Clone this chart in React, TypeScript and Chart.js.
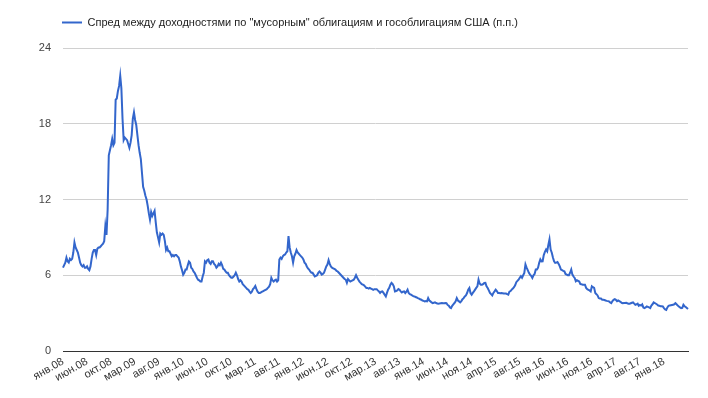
import { useEffect, useRef } from 'react';
import { Chart, registerables } from 'chart.js';

Chart.register(...registerables);

const seriesName = 'Спред между доходностями по "мусорным" облигациям и гособлигациям США (п.п.)';

const tickLabels = [
  'янв.08', 'июн.08', 'окт.08', 'мар.09', 'авг.09', 'янв.10', 'июн.10', 'окт.10', 'мар.11',
  'авг.11', 'янв.12', 'июн.12', 'окт.12', 'мар.13', 'авг.13', 'янв.14', 'июн.14', 'ноя.14',
  'апр.15', 'авг.15', 'янв.16', 'июн.16', 'ноя.16', 'апр.17', 'авг.17', 'янв.18',
];

const weeksPerTick = 21;

const yTicks = { min: 0, max: 24, step: 6 };

// weekly spread values, p.p.
const spread = [
  6.6, 6.8, 7.0, 7.4, 7.1, 7.0, 7.3, 7.2, 7.3, 7.8,
  8.6, 8.2, 8.0, 7.8, 7.4, 7.0, 6.8, 6.7, 6.8, 6.6,
  6.6, 6.7, 6.5, 6.4, 6.7, 7.3, 7.8, 8.0, 8.0, 7.6,
  8.1, 8.2, 8.2, 8.3, 8.4, 8.5, 8.7, 9.9, 9.2, 11.2,
  15.5, 15.9, 16.3, 16.8, 16.3, 16.5, 19.9, 20.0, 20.6, 21.0,
  21.8, 20.8, 18.4, 16.7, 16.9, 16.8, 16.7, 16.4, 16.1, 16.5,
  17.1, 18.4, 18.9, 18.3, 17.9, 17.1, 16.3, 15.7, 15.2, 14.1,
  13.0, 12.7, 12.3, 12.0, 11.5, 10.9, 10.4, 11.0, 10.7, 10.9,
  11.1, 10.2, 9.4, 9.0, 8.6, 9.3, 9.2, 9.3, 9.2, 8.7,
  8.0, 8.2, 7.9, 7.9, 7.7, 7.5, 7.6, 7.5, 7.6, 7.6,
  7.5, 7.4, 7.1, 6.7, 6.4, 6.05, 6.2, 6.45, 6.45, 6.8,
  7.1, 7.0, 6.6, 6.5, 6.3, 6.2, 6.0, 5.8, 5.65, 5.6,
  5.5, 5.5, 5.9, 6.2, 7.1, 7.0, 7.2, 7.25, 7.0, 6.9,
  7.1, 7.1, 6.9, 6.8, 6.6, 6.7, 6.9, 6.8, 7.0, 6.8,
  6.5, 6.45, 6.3, 6.2, 6.2, 6.0, 5.9, 5.8, 5.8, 5.9,
  6.0, 6.2, 6.0, 5.7, 5.5, 5.6, 5.5, 5.3, 5.2, 5.1,
  5.0, 4.9, 4.85, 4.7, 4.6, 4.7, 4.9, 5.0, 5.15, 4.9,
  4.7, 4.6, 4.6, 4.65, 4.7, 4.75, 4.8, 4.85, 4.9, 5.0,
  5.1, 5.3, 5.8, 5.6, 5.5, 5.6, 5.65, 5.5, 5.6, 7.25,
  7.4, 7.3, 7.5, 7.6, 7.65, 7.8, 7.9, 9.1, 8.2, 7.8,
  7.5, 7.0, 7.5, 7.7, 8.0, 7.8, 7.7, 7.6, 7.5, 7.4,
  7.25, 7.0, 6.9, 6.7, 6.55, 6.45, 6.3, 6.2, 6.2, 6.05,
  5.9, 5.95, 6.0, 6.2, 6.3, 6.2, 6.05, 6.1, 6.2, 6.45,
  6.7, 6.85, 7.2, 6.9, 6.7, 6.6, 6.55, 6.5, 6.45, 6.35,
  6.3, 6.2, 6.1, 6.0, 5.9, 5.8, 5.7, 5.65, 5.4, 5.7,
  5.6, 5.5, 5.55, 5.6, 5.65, 5.8, 6.0, 5.8, 5.65, 5.5,
  5.4, 5.3, 5.25, 5.2, 5.1, 5.0, 5.0, 4.95, 5.0, 4.95,
  4.9, 4.85, 4.9, 4.9, 4.9, 4.8, 4.72, 4.6, 4.7, 4.72,
  4.6, 4.45, 4.32, 4.6, 4.86, 5.0, 5.25, 5.39, 5.3, 5.12,
  4.72, 4.75, 4.8, 4.91, 4.85, 4.72, 4.64, 4.7, 4.72, 4.59,
  4.7, 4.86, 4.59, 4.5, 4.46, 4.4, 4.35, 4.32, 4.28, 4.24,
  4.19, 4.15, 4.1, 4.06, 4.0, 3.97, 3.93, 3.95, 3.93, 4.19,
  4.0, 3.93, 3.85, 3.79, 3.82, 3.85, 3.8, 3.76, 3.74, 3.77,
  3.79, 3.8, 3.78, 3.79, 3.8, 3.79, 3.65, 3.58, 3.45, 3.4,
  3.58, 3.7, 3.8, 3.93, 4.19, 4.0, 3.93, 3.85, 3.95, 4.1,
  4.19, 4.32, 4.4, 4.59, 4.85, 4.99, 4.59, 4.46, 4.6, 4.72,
  4.86, 5.0, 5.12, 5.65, 5.35, 5.25, 5.25, 5.3, 5.39, 5.4,
  5.12, 4.99, 4.8, 4.6, 4.5, 4.4, 4.6, 4.72, 4.86, 4.75,
  4.6, 4.6, 4.58, 4.6, 4.58, 4.55, 4.55, 4.55, 4.5, 4.46,
  4.7, 4.75, 4.86, 4.95, 5.05, 5.2, 5.45, 5.55, 5.65, 5.8,
  5.92, 5.8, 6.0, 6.19, 6.85, 6.6, 6.4, 6.19, 6.05, 5.95,
  5.79, 6.0, 6.1, 6.45, 6.45, 6.6, 6.98, 7.25, 7.1, 7.11,
  7.6, 7.85, 8.04, 7.9, 8.4, 8.84, 8.04, 7.78, 7.4, 7.11,
  6.98, 7.0, 7.05, 6.9, 6.7, 6.45, 6.4, 6.35, 6.31, 6.1,
  6.05, 6.0, 6.0, 6.2, 6.45, 6.05, 5.9, 5.79, 5.52, 5.6,
  5.55, 5.5, 5.3, 5.28, 5.25, 5.25, 5.25, 5.0, 4.9, 4.85,
  4.8, 4.72, 5.12, 5.05, 5.0, 4.59, 4.5, 4.4, 4.19, 4.15,
  4.15, 4.06, 4.06, 4.04, 4.0, 3.97, 3.95, 3.93, 3.85, 3.79,
  3.95, 4.06, 4.11, 4.05, 3.95, 4.0, 3.95, 3.9, 3.82, 3.79,
  3.8, 3.8, 3.82, 3.78, 3.75, 3.74, 3.78, 3.82, 3.85, 3.75,
  3.66, 3.7, 3.75, 3.58, 3.65, 3.6, 3.7, 3.45, 3.4, 3.45,
  3.53, 3.5, 3.45, 3.4, 3.6, 3.7, 3.85, 3.8, 3.74, 3.68,
  3.6, 3.58, 3.55, 3.55, 3.53, 3.4, 3.3, 3.26, 3.45, 3.58,
  3.6, 3.62, 3.64, 3.66, 3.7, 3.79, 3.7, 3.6, 3.53, 3.45,
  3.4, 3.42, 3.66, 3.55, 3.48, 3.4, 3.32,
];

const categories = spread.map((_, i) =>
  i % weeksPerTick === 0 ? tickLabels[i / weeksPerTick] ?? '' : ''
);

const FONT = '"Liberation Sans", Arial, sans-serif';

export default function App() {
  const canvasRef = useRef<HTMLCanvasElement | null>(null);

  useEffect(() => {
    const canvas = canvasRef.current;
    if (!canvas) return;
    const chart = new Chart(canvas, {
      type: 'line',
      data: {
        labels: categories,
        datasets: [
          {
            label: seriesName,
            data: spread,
            borderColor: '#3366cc',
            backgroundColor: '#3366cc',
            borderWidth: 2,
            pointRadius: 0,
            pointHoverRadius: 0,
            tension: 0,
            fill: false,
          },
        ],
      },
      options: {
        responsive: true,
        maintainAspectRatio: false,
        animation: false,
        events: [],
        layout: { padding: { top: -45, left: 0, right: 20, bottom: 0 } },
        plugins: {
          tooltip: { enabled: false },
          legend: {
            display: true,
            position: 'top',
            align: 'start',
            labels: {
              usePointStyle: true,
              pointStyle: 'line',
              pointStyleWidth: 20,
              padding: 62,
              color: '#222',
              font: { family: FONT, size: 11 },
            },
          },
          subtitle: {
            display: true,
            text: '',
            position: 'top',
            weight: 100,
            padding: 0,
            font: { size: 10, lineHeight: 1 },
          },
        },
        scales: {
          x: {
            type: 'category',
            grid: { display: false, drawTicks: false },
            border: { display: true, color: '#333', width: 1 },
            ticks: {
              autoSkip: false,
              maxRotation: 30,
              minRotation: 30,
              padding: 4,
              color: '#333',
              font: { family: FONT, size: 11 },
            },
            afterFit: (s: any) => {
              s.height = 47;
            },
          },
          y: {
            min: yTicks.min,
            max: yTicks.max,
            grid: { color: '#d0d0d0', drawTicks: false },
            border: { display: false },
            ticks: {
              stepSize: yTicks.step,
              padding: 12,
              color: '#444',
              font: { family: FONT, size: 11 },
            },
            afterFit: (s: any) => {
              s.width = 63;
            },
          },
        },
      },
    });
    return () => chart.destroy();
  }, []);

  return (
    <div style={{ position: 'absolute', left: 0, top: 0, width: 708, height: 398, background: '#fff' }}>
      <canvas ref={canvasRef} />
    </div>
  );
}
